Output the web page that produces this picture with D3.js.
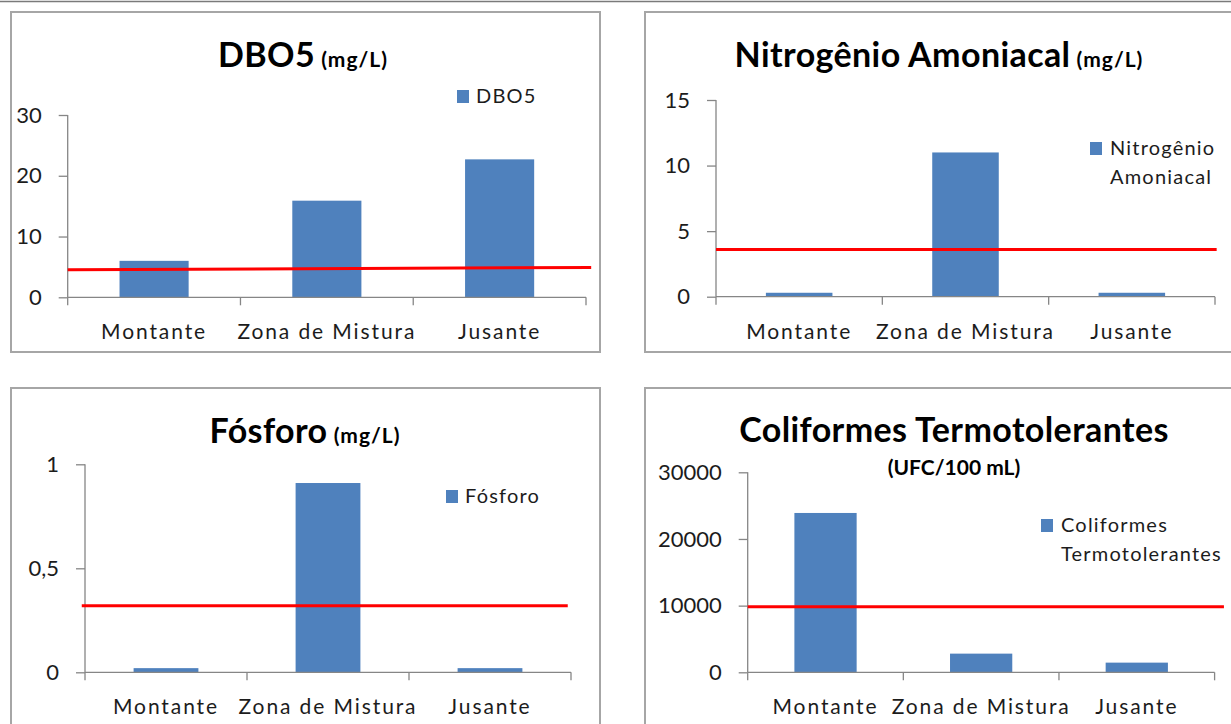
<!DOCTYPE html>
<html>
<head>
<meta charset="utf-8">
<script src="https://cdn.jsdelivr.net/npm/d3@7"></script>
<style>
  html, body { margin: 0; padding: 0; background: #fff; }
  svg { display: block; }
  text { font-family: Lato, "Open Sans", sans-serif; }
</style>
</head>
<body>
<svg id="chart" width="1231" height="724"></svg>
<script>
// Sampling points along the river
const categories = ["Montante", "Zona de Mistura", "Jusante"];

// Measured values per parameter
const dbo5Values = [6, 15.9, 22.7];
const nitrogenioValues = [0.3, 11, 0.3];
const fosforoValues = [0.02, 0.91, 0.02];
const coliformesValues = [23900, 2800, 1450];

// Reference limit (red line): value at start and end of the line
const dbo5Limit = [4.55, 4.9];
const nitrogenioLimit = [3.6, 3.6];
const fosforoLimit = [0.32, 0.32];
const coliformesLimit = [9850, 9850];

// Horizontal span of the limit line, in category units (0 = first, 3 = end of axis)
const dbo5LimitSpan = [0, 3.03];
const nitrogenioLimitSpan = [0, 3.01];
const fosforoLimitSpan = [-0.02, 2.98];
const coliformesLimitSpan = [0, 3.06];

// Y-axis tick values
const dbo5Ticks = [0, 10, 20, 30];
const nitrogenioTicks = [0, 5, 10, 15];
const fosforoTicks = [0, 0.5, 1];
const coliformesTicks = [0, 10000, 20000, 30000];

// Titles and legend labels
const dbo5Title = ["DBO5", " (mg/L)"];
const nitrogenioTitle = ["Nitrogênio Amoniacal", " (mg/L)"];
const fosforoTitle = ["Fósforo", " (mg/L)"];
const coliformesTitle = ["Coliformes Termotolerantes", ""];
const coliformesSubtitle = "(UFC/100 mL)";
const dbo5Legend = ["DBO5"];
const nitrogenioLegend = ["Nitrogênio", "Amoniacal"];
const fosforoLegend = ["Fósforo"];
const coliformesLegend = ["Coliformes", "Termotolerantes"];

const BAR = "#4f81bd";
const RED = "#ff0000";
const AXIS = "#868686";
const TEXT = "#1c1c1c";

const svg = d3.select("#chart");

// thin rule along the top edge
svg.append("line")
  .attr("x1", 0).attr("x2", 1231).attr("y1", 1.5).attr("y2", 1.5)
  .attr("stroke", "#7a7a7a").attr("stroke-width", 1.5);

const panels = [
  { frame: [11, 12, 600, 352], plot: { x0: 67.7, x1: 586, yBase: 297.3, yTop: 115 },
    values: dbo5Values, limit: dbo5Limit, span: dbo5LimitSpan, ticks: dbo5Ticks,
    title: dbo5Title, titleX: 303, titleY: 67, legend: dbo5Legend, legendX: 457, legendY: 90 },
  { frame: [645, 12, 1245, 352], plot: { x0: 716, x1: 1215, yBase: 296.7, yTop: 100 },
    values: nitrogenioValues, limit: nitrogenioLimit, span: nitrogenioLimitSpan, ticks: nitrogenioTicks,
    title: nitrogenioTitle, titleX: 939, titleY: 67, legend: nitrogenioLegend, legendX: 1090, legendY: 142 },
  { frame: [11, 388, 600, 740], plot: { x0: 85, x1: 571, yBase: 672.3, yTop: 464.3 },
    values: fosforoValues, limit: fosforoLimit, span: fosforoLimitSpan, ticks: fosforoTicks,
    title: fosforoTitle, titleX: 305, titleY: 443, legend: fosforoLegend, legendX: 446, legendY: 490 },
  { frame: [645, 388, 1245, 740], plot: { x0: 747.7, x1: 1214.6, yBase: 672.3, yTop: 472.3 },
    values: coliformesValues, limit: coliformesLimit, span: coliformesLimitSpan, ticks: coliformesTicks,
    title: coliformesTitle, titleX: 954, titleY: 442, subtitle: coliformesSubtitle, subtitleY: 475,
    legend: coliformesLegend, legendX: 1041, legendY: 519 }
];

const fmt = d => String(d).replace(".", ",");

panels.forEach(p => {
  const g = svg.append("g");
  const [fx0, fy0, fx1, fy1] = p.frame;

  // chart frame
  g.append("rect")
    .attr("x", fx0).attr("y", fy0)
    .attr("width", fx1 - fx0).attr("height", fy1 - fy0)
    .attr("fill", "#fff").attr("stroke", "#a6a6a6").attr("stroke-width", 2);

  const x = d3.scaleBand().domain(categories)
    .range([p.plot.x0, p.plot.x1]).paddingInner(0.6).paddingOuter(0.3);
  const xu = d3.scaleLinear().domain([0, categories.length]).range([p.plot.x0, p.plot.x1]);
  const yMax = d3.max(p.ticks);
  const y = d3.scaleLinear().domain([0, yMax]).range([p.plot.yBase, p.plot.yTop]);

  // bars
  g.selectAll("rect.bar").data(p.values).join("rect")
    .attr("class", "bar")
    .attr("x", (d, i) => x(categories[i]))
    .attr("width", x.bandwidth())
    .attr("y", d => y(d))
    .attr("height", d => y(0) - y(d))
    .attr("fill", BAR);

  // y axis
  const yAxis = g.append("g")
    .attr("transform", `translate(${p.plot.x0},0)`)
    .call(d3.axisLeft(y).tickValues(p.ticks).tickSize(9).tickPadding(17).tickFormat(fmt));
  yAxis.select(".domain").attr("stroke", AXIS).attr("stroke-width", 1.3).attr("d", `M0,${y(0)}V${y(yMax)}`);
  yAxis.selectAll(".tick line").attr("stroke", AXIS).attr("stroke-width", 1.3);
  yAxis.selectAll(".tick text").attr("fill", TEXT).attr("font-size", 22)
    .attr("font-family", "Lato, sans-serif");

  // x axis with ticks on category boundaries
  const xAxis = g.append("g");
  xAxis.append("line")
    .attr("x1", p.plot.x0).attr("x2", p.plot.x1)
    .attr("y1", y(0)).attr("y2", y(0))
    .attr("stroke", AXIS).attr("stroke-width", 1.3);
  xAxis.selectAll("line.tk").data(d3.range(categories.length + 1)).join("line")
    .attr("class", "tk")
    .attr("x1", d => xu(d)).attr("x2", d => xu(d))
    .attr("y1", y(0)).attr("y2", y(0) + 8)
    .attr("stroke", AXIS).attr("stroke-width", 1.3);
  xAxis.selectAll("text").data(categories).join("text")
    .attr("x", d => x(d) + x.bandwidth() / 2)
    .attr("y", y(0) + 42)
    .attr("text-anchor", "middle")
    .attr("font-size", 21).attr("letter-spacing", 1.9)
    .attr("fill", TEXT)
    .text(d => d);

  // reference limit line
  g.append("line")
    .attr("x1", xu(p.span[0])).attr("x2", xu(p.span[1]))
    .attr("y1", y(p.limit[0])).attr("y2", y(p.limit[1]))
    .attr("stroke", RED).attr("stroke-width", 3);

  // title
  const t = g.append("text")
    .attr("x", p.titleX).attr("y", p.titleY)
    .attr("text-anchor", "middle").attr("fill", "#000").attr("font-weight", 700);
  t.append("tspan").attr("font-size", 34).attr("letter-spacing", 0.4).text(p.title[0]);
  if (p.title[1]) t.append("tspan").attr("font-size", 21).attr("letter-spacing", 1).text(p.title[1]);
  if (p.subtitle) {
    g.append("text")
      .attr("x", p.titleX).attr("y", p.subtitleY)
      .attr("text-anchor", "middle").attr("fill", "#000")
      .attr("font-weight", 700).attr("font-size", 21)
      .text(p.subtitle);
  }

  // legend
  g.append("rect")
    .attr("x", p.legendX).attr("y", p.legendY)
    .attr("width", 12).attr("height", 13).attr("fill", BAR);
  g.selectAll("text.leg").data(p.legend).join("text")
    .attr("class", "leg")
    .attr("x", p.legendX + (p.legend.length > 1 ? 20 : 19))
    .attr("y", (d, i) => p.legendY + 13 + i * 28.5)
    .attr("font-size", 20).attr("letter-spacing", 1.2)
    .attr("fill", TEXT)
    .text(d => d);
});
</script>
</body>
</html>
